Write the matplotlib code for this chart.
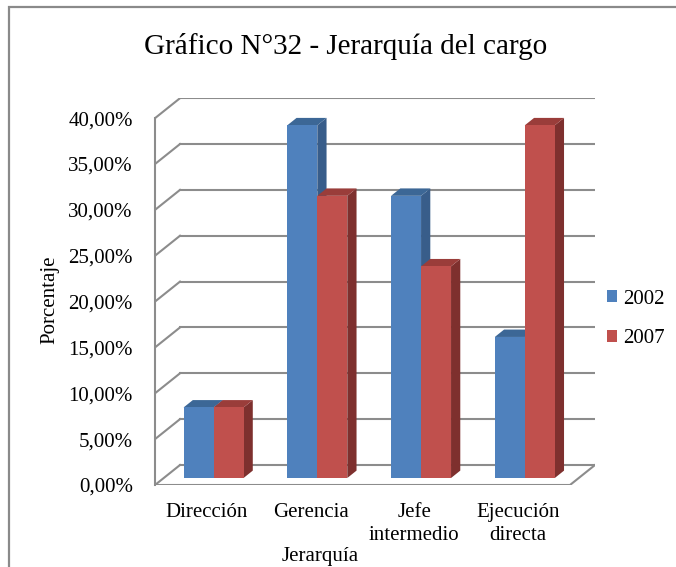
"""
Gráfico N°32 - Jerarquía del cargo: Excel-style 3D column chart
(2002 vs 2007), drawn with flat matplotlib patches.
"""

import matplotlib.pyplot as plt
from matplotlib.patches import Polygon, Rectangle
import numpy as np

categories = ["Dirección", "Gerencia", "Jefe\nintermedio", "Ejecución\ndirecta"]
years = ["2002", "2007"]
pct_2002 = [7.69, 38.46, 30.77, 15.38]
pct_2007 = [7.69, 30.77, 23.08, 38.46]
y_ticks = [0, 5, 10, 15, 20, 25, 30, 35, 40]

# face colours: front, top, side
colors = {
    "2002": ("#4F81BD", "#3C6796", "#385D8A"),
    "2007": ("#C0504D", "#9A3D3A", "#7E302E"),
}

plt.rcParams["font.family"] = ["Liberation Serif", "DejaVu Serif"]
GRID = "#8C8C8C"

fig = plt.figure(figsize=(6.76, 5.67), dpi=100)
ax = fig.add_axes([155 / 676, 82 / 567, 440 / 676, 387 / 567])

# depth offsets of the back wall (in data units)
dx, dy = 0.241, 2.18
ncat = len(categories)
ax.set_xlim(0, ncat + dx)
ax.set_ylim(0, 42.2)

# back wall grid + slanted side-wall lines
for v in y_ticks:
    ax.plot([dx, ncat + dx], [v + dy, v + dy], color=GRID, lw=1.5, zorder=1)
    ax.plot([0, dx], [v, v + dy], color=GRID, lw=1.5, zorder=1)
# floor front edge and right edge
ax.plot([0, ncat, ncat + dx], [0, 0, dy], color=GRID, lw=1.5, zorder=1)

# bars sit in the middle of the depth
bx, by = 0.35 * dx, 0.35 * dy
sx, sy = 0.37 * dx, 0.37 * dy
w = 0.289
centers = np.arange(ncat) + 0.48

handles = []
for k, (yr, vals) in enumerate(zip(years, [pct_2002, pct_2007])):
    front, top, side = colors[yr]
    for i, v in enumerate(vals):
        x0 = centers[i] - w + k * w + bx
        y0 = by
        ax.add_patch(Polygon([(x0 + w, y0), (x0 + w + sx, y0 + sy),
                              (x0 + w + sx, y0 + v + sy), (x0 + w, y0 + v)],
                             closed=True, fc=side, ec="none", zorder=3 + k))
        ax.add_patch(Polygon([(x0, y0 + v), (x0 + w, y0 + v),
                              (x0 + w + sx, y0 + v + sy), (x0 + sx, y0 + v + sy)],
                             closed=True, fc=top, ec="none", zorder=3 + k))
        r = Rectangle((x0, y0), w, v, fc=front, ec="none", zorder=3 + k,
                      label=yr if i == 0 else None)
        ax.add_patch(r)
        if i == 0:
            handles.append(r)

for s in ["top", "right", "bottom"]:
    ax.spines[s].set_visible(False)
ax.spines["left"].set_bounds(0, 40)
ax.spines["left"].set_color(GRID)
ax.spines["left"].set_linewidth(1.5)

ax.set_yticks(y_ticks)
ax.set_yticklabels([f"{v:.2f}".replace(".", ",") + "%" for v in y_ticks],
                   fontsize=15)
ax.tick_params(axis="y", length=0, pad=16)
ax.set_xticks(np.arange(ncat) + 0.5)
ax.set_xticklabels(categories, fontsize=15, linespacing=1.3)
ax.tick_params(axis="x", length=0, pad=13)

fig.text(346 / 676, 1 - 47 / 567, "Gráfico N°32 - Jerarquía del cargo",
         fontsize=21, ha="center", va="center")
fig.text(50 / 676, 1 - 300 / 567, "Porcentaje", fontsize=15, rotation=90,
         ha="center", va="center")
fig.text(320 / 676, 1 - 557 / 567, "Jerarquía", fontsize=15,
         ha="center", va="center")

fig.legend(handles=handles, labels=years, loc="center left",
           bbox_to_anchor=(588 / 676, 1 - 319 / 567), frameon=False,
           fontsize=15, handlelength=0.5, handleheight=0.5,
           handletextpad=0.3, labelspacing=1.0)

# outer chart frame (runs off the right and bottom of the image)
fig.patches.append(Rectangle((9 / 676, -0.05), 1.0, 1.05 - 7 / 567,
                             transform=fig.transFigure, fill=False,
                             ec="#8A8A8A", lw=1.6))

fig.savefig("out.png", dpi=100)
